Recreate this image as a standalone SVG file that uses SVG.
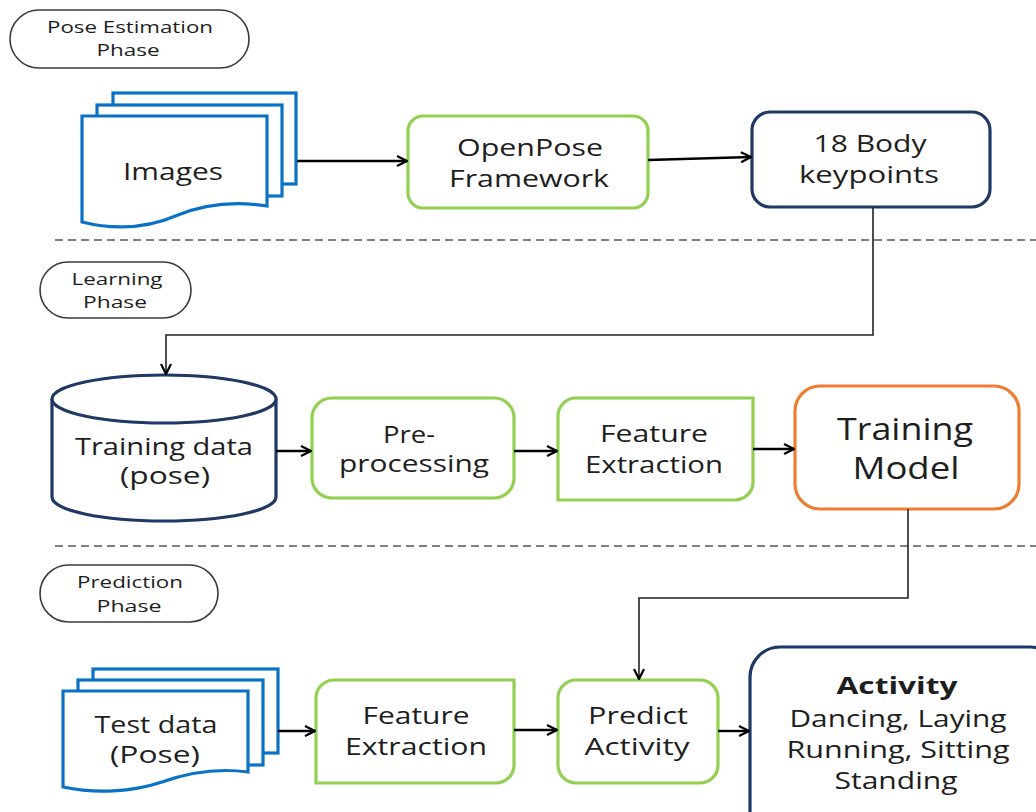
<svg xmlns="http://www.w3.org/2000/svg" width="1036" height="812" viewBox="0 0 1036 812">
<style>
text{font-family:"Open Sans","Noto Sans","DejaVu Sans",sans-serif;fill:#1e1e1e;text-anchor:middle}
.sm{font-size:16px}
.md{font-size:23px}
.lg{font-size:31px}
.pill{fill:#fff;stroke:#3a3a3a;stroke-width:1.6}
.doc{fill:#fff;stroke:#0a72c4;stroke-width:3.2}
.grn{fill:#fff;stroke:#92d050;stroke-width:3.2}
.nav{fill:#fff;stroke:#1f3864;stroke-width:3.2}
.org{fill:#fff;stroke:#ed7d31;stroke-width:3.2}
.con{fill:none;stroke:#000;stroke-width:2.4}
.thin{fill:none;stroke:#222;stroke-width:1.6}
.dash{fill:none;stroke:#555;stroke-width:1.6;stroke-dasharray:8 5}
</style>
<defs>
<marker id="arr" viewBox="0 0 12 12" refX="11" refY="6" markerWidth="12" markerHeight="12" markerUnits="userSpaceOnUse" orient="auto">
<path d="M1,1 L11,6 L1,11" fill="none" stroke="#000" stroke-width="2.2"/>
</marker>
</defs>
<rect width="1036" height="812" fill="#fff"/>

<g id="separators">
<line class="dash" x1="55" y1="240" x2="1036" y2="240"/>
<line class="dash" x1="55" y1="546" x2="1036" y2="546"/>
</g>

<g id="phase-pose">
<rect class="pill" x="10" y="10" width="239" height="58" rx="29"/>
<text class="sm" x="130" y="33" textLength="166" lengthAdjust="spacingAndGlyphs">Pose Estimation</text>
<text class="sm" x="128" y="56" textLength="63" lengthAdjust="spacingAndGlyphs">Phase</text>
</g>

<g id="phase-learning">
<rect class="pill" x="40" y="262" width="151" height="56" rx="28"/>
<text class="sm" x="117" y="285" textLength="91" lengthAdjust="spacingAndGlyphs">Learning</text>
<text class="sm" x="115" y="308" textLength="64" lengthAdjust="spacingAndGlyphs">Phase</text>
</g>

<g id="phase-prediction">
<rect class="pill" x="40" y="565" width="178" height="57" rx="28.5"/>
<text class="sm" x="130" y="588" textLength="106" lengthAdjust="spacingAndGlyphs">Prediction</text>
<text class="sm" x="129" y="612" textLength="65" lengthAdjust="spacingAndGlyphs">Phase</text>
</g>

<g id="images">
<rect class="doc" x="113" y="93" width="183" height="91"/>
<rect class="doc" x="97" y="105" width="185" height="91"/>
<path class="doc" d="M82,116 H267 V206 C236,201 205,204 178,215 C148,228 114,230 82,222 Z"/>
<text class="md" x="173" y="180" textLength="100" lengthAdjust="spacingAndGlyphs">Images</text>
</g>

<g id="openpose">
<rect class="grn" x="408" y="116" width="240" height="92" rx="15"/>
<text class="md" x="530" y="156" textLength="146" lengthAdjust="spacingAndGlyphs">OpenPose</text>
<text class="md" x="529" y="187" textLength="160" lengthAdjust="spacingAndGlyphs">Framework</text>
</g>

<g id="keypoints">
<rect class="nav" x="752" y="112" width="238" height="95" rx="18"/>
<text class="md" x="870" y="152" textLength="113" lengthAdjust="spacingAndGlyphs">18 Body</text>
<text class="md" x="869" y="183" textLength="140" lengthAdjust="spacingAndGlyphs">keypoints</text>
</g>

<g id="training-data">
<path class="nav" d="M52,399 V497 A112,24 0 0 0 276,497 V399"/>
<ellipse class="nav" cx="164" cy="399" rx="112" ry="24"/>
<text class="md" x="164" y="455" textLength="178" lengthAdjust="spacingAndGlyphs">Training data</text>
<text class="md" x="165" y="484" textLength="90" lengthAdjust="spacingAndGlyphs">(pose)</text>
</g>

<g id="preprocessing">
<rect class="grn" x="312" y="398" width="202" height="100" rx="20"/>
<text class="md" x="409" y="443" textLength="52" lengthAdjust="spacingAndGlyphs">Pre-</text>
<text class="md" x="414" y="472" textLength="150" lengthAdjust="spacingAndGlyphs">processing</text>
</g>

<g id="feature-extraction-learning">
<path class="grn" d="M576,398 H753 V482 A18,18 0 0 1 735,500 H558 V416 A18,18 0 0 1 576,398 Z"/>
<text class="md" x="654" y="442" textLength="108" lengthAdjust="spacingAndGlyphs">Feature</text>
<text class="md" x="654" y="473" textLength="138" lengthAdjust="spacingAndGlyphs">Extraction</text>
</g>

<g id="training-model">
<rect class="org" x="795" y="386" width="224" height="123" rx="25"/>
<text class="lg" x="905" y="440" textLength="136" lengthAdjust="spacingAndGlyphs">Training</text>
<text class="lg" x="906" y="479" textLength="107" lengthAdjust="spacingAndGlyphs">Model</text>
</g>

<g id="test-data">
<rect class="doc" x="93" y="669" width="185" height="84"/>
<rect class="doc" x="78" y="680" width="185" height="85"/>
<path class="doc" d="M63,691 H248 V772 C218,768 190,772 162,782 C132,792 96,794 63,787 Z"/>
<text class="md" x="156" y="733" textLength="123" lengthAdjust="spacingAndGlyphs">Test data</text>
<text class="md" x="155" y="763" textLength="90" lengthAdjust="spacingAndGlyphs">(Pose)</text>
</g>

<g id="feature-extraction-prediction">
<path class="grn" d="M334,680 H514 V765 A18,18 0 0 1 496,783 H316 V698 A18,18 0 0 1 334,680 Z"/>
<text class="md" x="416" y="724" textLength="107" lengthAdjust="spacingAndGlyphs">Feature</text>
<text class="md" x="416" y="755" textLength="142" lengthAdjust="spacingAndGlyphs">Extraction</text>
</g>

<g id="predict-activity">
<rect class="grn" x="558" y="680" width="160" height="103" rx="18"/>
<text class="md" x="638" y="724" textLength="100" lengthAdjust="spacingAndGlyphs">Predict</text>
<text class="md" x="637" y="755" textLength="105" lengthAdjust="spacingAndGlyphs">Activity</text>
</g>

<g id="activity">
<rect class="nav" x="750" y="647" width="310" height="200" rx="30"/>
<text class="md" x="897" y="694" font-weight="bold" textLength="121" lengthAdjust="spacingAndGlyphs">Activity</text>
<text class="md" x="898" y="727" textLength="217" lengthAdjust="spacingAndGlyphs">Dancing, Laying</text>
<text class="md" x="898" y="758" textLength="223" lengthAdjust="spacingAndGlyphs">Running, Sitting</text>
<text class="md" x="896" y="789" textLength="123" lengthAdjust="spacingAndGlyphs">Standing</text>
</g>

<g id="connectors">
<line class="con" x1="297" y1="161" x2="407" y2="161" marker-end="url(#arr)"/>
<line class="con" x1="648" y1="160" x2="751" y2="157" marker-end="url(#arr)"/>
<polyline class="thin" points="873,207 873,335 166,335 166,374" marker-end="url(#arr)"/>
<line class="con" x1="276" y1="451" x2="311" y2="451" marker-end="url(#arr)"/>
<line class="con" x1="514" y1="451" x2="557" y2="451" marker-end="url(#arr)"/>
<line class="con" x1="753" y1="449" x2="794" y2="449" marker-end="url(#arr)"/>
<polyline class="thin" points="908,509 908,598 639,598 639,679" marker-end="url(#arr)"/>
<line class="con" x1="278" y1="731" x2="315" y2="731" marker-end="url(#arr)"/>
<line class="con" x1="514" y1="730" x2="557" y2="730" marker-end="url(#arr)"/>
<line class="con" x1="718" y1="731" x2="749" y2="731" marker-end="url(#arr)"/>
</g>
</svg>
